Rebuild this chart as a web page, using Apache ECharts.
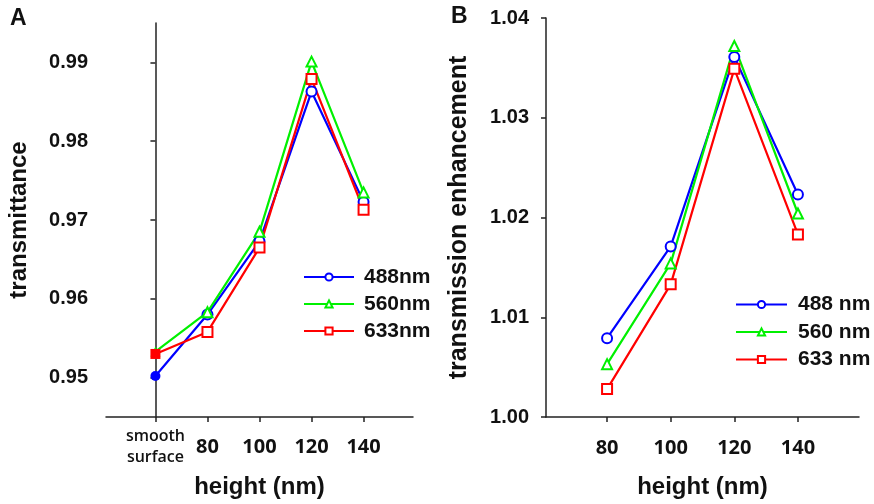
<!DOCTYPE html>
<html>
<head>
<meta charset="utf-8">
<script src="https://cdn.jsdelivr.net/npm/echarts@6/dist/echarts.min.js"></script>
<style>html,body{margin:0;padding:0;background:#fff}#c{width:874px;height:504px}</style>
</head>
<body>
<div id="c"></div>
<script>
// Panel A data
var catsA = ['smooth surface', '80', '100', '120', '140'];
var posA = [0, 1, 2, 3, 4];
var a488 = [0.9502, 0.9580, 0.9673, 0.9863, 0.9723];
var a560 = [0.9533, 0.9583, 0.9685, 0.9901, 0.9735];
var a633 = [0.9530, 0.9558, 0.9665, 0.9879, 0.9713];
var yTicksA = [0.95, 0.96, 0.97, 0.98, 0.99];
// Panel B data
var xB = [80, 100, 120, 140];
var b488 = [1.0079, 1.0171, 1.0361, 1.0223];
var b560 = [1.0053, 1.0154, 1.0372, 1.0204];
var b633 = [1.0028, 1.0133, 1.0349, 1.0183];

var BLUE = '#0000ff', GREEN = '#00f000', RED = '#ff0000';
var ARIAL = 'Liberation Sans, Arial, sans-serif';
var SEGOE = 'Open Sans, sans-serif';

function seriesA(name, vals, color, sym, fillSym) {
  return {
    name: name, type: 'line', xAxisIndex: 0, yAxisIndex: 0,
    symbol: sym, symbolSize: 10,
    lineStyle: {color: color, width: 2.2}, itemStyle: {color: color, borderWidth: 1.7},
    data: vals.map(function (v, i) {
      if (i === 0) return {value: [posA[i], v], symbol: fillSym, symbolSize: 10};
      return [posA[i], v];
    }), z: 3
  };
}
function seriesB(name, vals, color, sym) {
  return {
    name: name, type: 'line', xAxisIndex: 1, yAxisIndex: 1,
    symbol: sym, symbolSize: 10,
    lineStyle: {color: color, width: 2.2}, itemStyle: {color: color, borderWidth: 1.7},
    data: vals.map(function (v, i) { return [xB[i], v]; }), z: 3
  };
}
var axisLine = {show: true, lineStyle: {color: '#222', width: 1.5}};
var tick = {show: true, inside: false, length: 5, lineStyle: {color: '#222', width: 1.5}};
var nameStyle = {fontFamily: ARIAL, fontWeight: 'bold', fontSize: 24, color: '#111'};

var chart = echarts.init(document.getElementById('c'));
chart.setOption({
  animation: false,
  grid: [
    {left: 106, top: 23, width: 307, height: 394, containLabel: false, outerBoundsMode: 'none'},
    {left: 546, top: 18, width: 313, height: 399, containLabel: false, outerBoundsMode: 'none'}
  ],
  xAxis: [
    {type: 'value', gridIndex: 0, min: -0.95, max: 4.95,
     axisLine: axisLine, splitLine: {show: false},
     axisTick: Object.assign({}, tick, {customValues: posA}),
     axisLabel: {customValues: posA, margin: 30, verticalAlign: 'middle', color: '#111',
       fontFamily: SEGOE, fontWeight: 700, fontSize: 20,
       formatter: function (v) {
         var i = Math.round(v);
         if (i === 0) return '{s|smooth}\n{s|surface}';
         return catsA[i];
       },
       rich: {s: {fontFamily: SEGOE, fontWeight: 600, fontSize: 16, lineHeight: 21, color: '#111'}}
     },
     name: 'height (nm)', nameLocation: 'middle', nameGap: 58, nameTextStyle: nameStyle
    },
    {type: 'value', gridIndex: 1, min: 60.8, max: 159.2,
     axisLine: axisLine, splitLine: {show: false},
     axisTick: Object.assign({}, tick, {customValues: xB}),
     axisLabel: {customValues: xB, margin: 31, verticalAlign: 'middle', color: '#111',
       fontFamily: SEGOE, fontWeight: 700, fontSize: 20},
     name: 'height (nm)', nameLocation: 'middle', nameGap: 58, nameTextStyle: nameStyle
    }
  ],
  yAxis: [
    {type: 'value', gridIndex: 0, min: 0.945, max: 0.995,
     axisLine: axisLine, splitLine: {show: false},
     axisTick: Object.assign({}, tick, {customValues: yTicksA}),
     axisLabel: {customValues: yTicksA, margin: 18, color: '#111',
       fontFamily: ARIAL, fontWeight: 'bold', fontSize: 20,
       formatter: function (v) { return v.toFixed(2); }},
     name: 'transmittance', nameLocation: 'middle', nameGap: 75, nameTextStyle: nameStyle
    },
    {type: 'value', gridIndex: 1, min: 1.00, max: 1.04, interval: 0.01,
     axisLine: axisLine, splitLine: {show: false}, axisTick: tick,
     axisLabel: {margin: 17, color: '#111',
       fontFamily: ARIAL, fontWeight: 'bold', fontSize: 20,
       formatter: function (v) { return v.toFixed(2); }},
     name: 'transmission enhancement', nameLocation: 'middle', nameGap: 74,
     nameTextStyle: {fontFamily: ARIAL, fontWeight: 'bold', fontSize: 25, color: '#111'}
    }
  ],
  legend: [
    {data: ['488nm', '560nm', '633nm'], orient: 'vertical', left: 303, top: 266.5, padding: 0,
     itemWidth: 50, itemHeight: 9, itemGap: 6,
     textStyle: {fontFamily: ARIAL, fontWeight: 'bold', fontSize: 21, color: '#111', padding: [0, 0, 0, 5]}},
    {data: ['488 nm', '560 nm', '633 nm'], orient: 'vertical', left: 735, top: 294, padding: 0,
     itemWidth: 51, itemHeight: 9, itemGap: 6.5,
     textStyle: {fontFamily: ARIAL, fontWeight: 'bold', fontSize: 21, color: '#111', padding: [0, 0, 0, 6]}}
  ],
  graphic: [
    {type: 'text', left: 10, top: 7, style: {text: 'A', font: 'bold 23px Liberation Sans, Arial', fill: '#111'}},
    {type: 'text', left: 451, top: 5, style: {text: 'B', font: 'bold 23px Liberation Sans, Arial', fill: '#111'}}
  ],
  series: [
    seriesA('488nm', a488, BLUE, 'emptyCircle', 'circle'),
    seriesA('560nm', a560, GREEN, 'emptyTriangle', 'triangle'),
    seriesA('633nm', a633, RED, 'emptyRect', 'rect'),
    seriesB('488 nm', b488, BLUE, 'emptyCircle'),
    seriesB('560 nm', b560, GREEN, 'emptyTriangle'),
    seriesB('633 nm', b633, RED, 'emptyRect')
  ]
});
</script>
</body>
</html>
